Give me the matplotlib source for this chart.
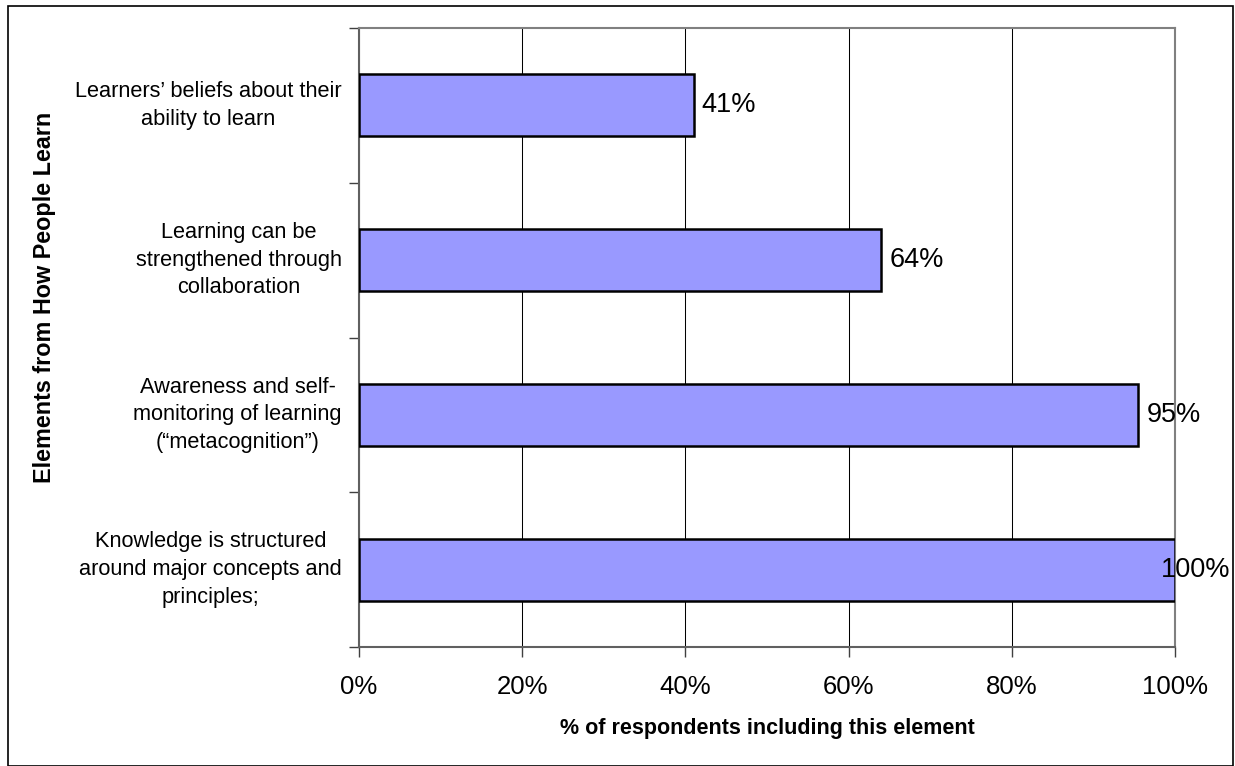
import matplotlib
matplotlib.use("Agg")
import matplotlib.pyplot as plt
from matplotlib.ticker import FixedLocator, PercentFormatter
from matplotlib.patches import Rectangle

plt.rcParams['font.family'] = ['Liberation Sans', 'DejaVu Sans']

categories = [
    "Learners\u2019 beliefs about their\nability to learn",
    "Learning can be\nstrengthened through\ncollaboration",
    "Awareness and self-\nmonitoring of learning\n(\u201cmetacognition\u201d)",
    "Knowledge is structured\naround major concepts and\nprinciples;",
]
values = [41, 64, 95.5, 100]
value_labels = ["41%", "64%", "95%", "100%"]
x_ticks = [0, 20, 40, 60, 80, 100]
x_label = "% of respondents including this element"
y_label = "Elements from How People Learn"

W, H = 1235, 766
fig = plt.figure(figsize=(W / 100, H / 100), dpi=100)
ax = fig.add_axes([359 / W, 1 - 647 / H, (1175 - 359) / W, (647 - 28) / H])

n = len(categories)
pos = list(range(n))
ax.barh(pos, values, height=0.4, color="#9999FF", edgecolor="black",
        linewidth=1.8, zorder=3)
ax.set_ylim(n - 0.5, -0.5)
ax.set_xlim(0, 100)

# gridlines
ax.set_xticks(x_ticks)
ax.xaxis.set_major_formatter(PercentFormatter(decimals=0))
ax.grid(axis="x", color="black", linewidth=0.75, zorder=1)
ax.set_axisbelow(True)
ax.tick_params(axis="x", direction="out", length=7, width=1, color="#404040",
               labelsize=18.5, pad=13)

# y ticks at category boundaries, labels as text
ax.yaxis.set_major_locator(FixedLocator([p + 0.5 for p in pos[:-1]] + [-0.5, n - 0.5]))
ax.set_yticklabels([])
ax.tick_params(axis="y", direction="out", length=7, width=1, color="#404040")
for p, c in zip(pos, categories):
    ax.text(-0.021, p, c, transform=ax.get_yaxis_transform(), ha="right",
            va="center", multialignment="center", fontsize=15.7, linespacing=1.42)

for s in ax.spines.values():
    s.set_color("#808080")
    s.set_linewidth(1.5)
ax.spines["left"].set_color("#606060")
ax.spines["bottom"].set_color("#606060")

ax.set_xlabel(x_label, fontsize=15.5, fontweight="bold", labelpad=14)
fig.text(45 / W, 1 - 297 / H, y_label, rotation=90, ha="center", va="center",
         fontsize=16.8, fontweight="bold")

# value labels
fig.canvas.draw()
r = fig.canvas.get_renderer()
fig_right_px = 1230
for p, v, lab in zip(pos, values, value_labels):
    t = ax.text(v, p, lab, fontsize=19.5, ha="left", va="center", zorder=5)
    x_end_px = ax.transData.transform((v, p))[0]
    bb = t.get_window_extent(renderer=r)
    left_px = min(x_end_px + 8, fig_right_px - bb.width)
    xd = ax.transData.inverted().transform((left_px, 0))[0]
    t.set_x(xd)
    t.set_clip_on(False)

# figure border
fig.patches.append(Rectangle((8 / W, 0), (1233 - 8) / W, 1 - 6 / H,
                             transform=fig.transFigure, fill=False,
                             edgecolor="black", linewidth=1.2))

fig.savefig("out.png", dpi=100)
